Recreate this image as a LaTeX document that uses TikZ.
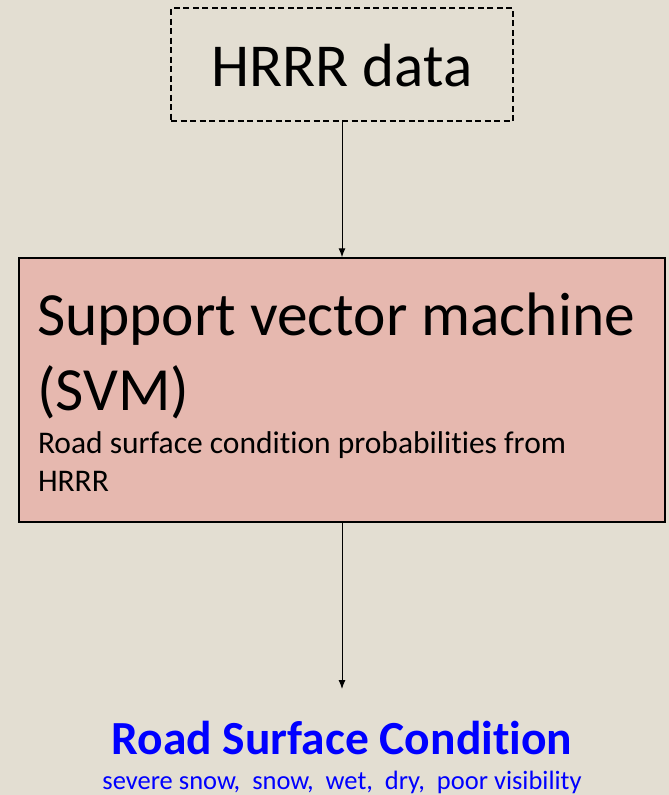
\documentclass[tikz,border=0pt]{standalone}
\usepackage{fontspec}
\setmainfont[Ligatures=NoCommon]{Carlito}
\usetikzlibrary{arrows.meta}
\definecolor{bgpaper}{RGB}{227,222,210}
\definecolor{svmfill}{RGB}{230,184,175}
\definecolor{rscblue}{RGB}{0,0,255}
\tikzset{
  flowarrow/.style={draw=black, line width=1pt, -{Latex[length=9pt,width=7pt]}},
  txt/.style={inner sep=0pt, outer sep=0pt},
}
\begin{document}
\begin{tikzpicture}[x=1pt,y=-1pt]
  % page
  \fill[bgpaper] (0,0) rectangle (669,795);
  \useasboundingbox (0,0) rectangle (669,795);

  % input box
  \node[draw=black, line width=1.3pt, dash pattern=on 6pt off 3.5pt,
        minimum width=342pt, minimum height=113pt, inner sep=0pt] (hrrr) at (342,64.5) {};
  \node[txt, anchor=base, font=\fontsize{61}{73}\selectfont] (hrrrtxt) at (342,86) {HRRR data};

  % classifier box
  \node[draw=black, fill=svmfill, line width=1.5pt, minimum width=646pt, minimum height=264pt,
        inner sep=0pt] (svm) at (342,390) {};
  \node[txt, anchor=base west, font=\fontsize{61.4}{74}\selectfont] (svm1) at (37,335) {Support vector machine};
  \node[txt, anchor=base west, font=\fontsize{61.4}{74}\selectfont] (svm2) at (37,410) {(SVM)};
  \node[txt, anchor=base west, font=\fontsize{31.5}{38}\selectfont] (svm3) at (38,453) {Road surface condition probabilities from};
  \node[txt, anchor=base west, font=\fontsize{31.5}{38}\selectfont] (svm4) at (38,491) {HRRR};

  % output
  \coordinate (outtop) at (342,689);
  \node[txt, anchor=base, text=rscblue, font=\fontsize{47.5}{57}\bfseries\selectfont] (rsc) at (342,754) {Road Surface Condition};
  \node[txt, anchor=base, text=rscblue, font=\fontsize{26.5}{32}\selectfont] (classes) at (342,789) {severe snow,\ \ snow,\ \ wet,\ \ dry,\ \ poor visibility};

  % connectors
  \draw[flowarrow] (hrrr.south) -- (svm.north);
  \draw[flowarrow] (svm.south) -- (outtop);
\end{tikzpicture}
\end{document}
